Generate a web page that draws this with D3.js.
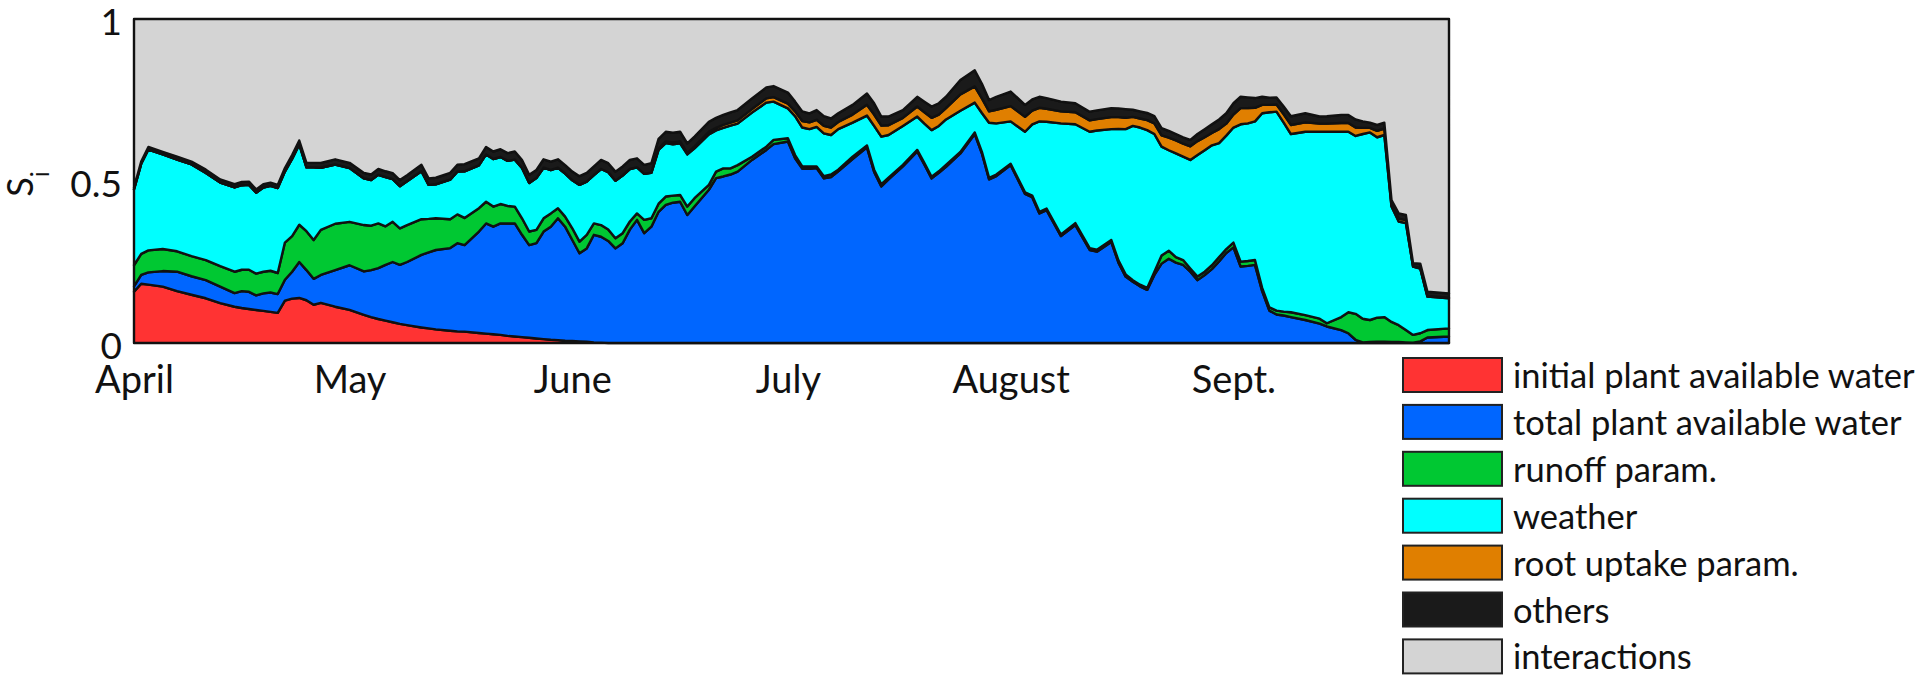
<!DOCTYPE html>
<html>
<head>
<meta charset="utf-8">
<script src="https://cdn.jsdelivr.net/npm/d3@7"></script>
<style>
  html, body { margin: 0; padding: 0; background: #ffffff; }
  svg { display: block; font-family: Lato, "Open Sans", sans-serif; }
</style>
</head>
<body>
<svg id="chart" width="1919" height="677"></svg>
<script>
// Day offsets counted from 1 April
const days = [0,1,2,4,6,8,10,12,14,15,16,17,18,19,20,
  21,22,23,24,25,26,28,30,32,33,34,35,36,37,38,40,41,42,44,45,46,
  48,49,50,51,52,53,54,55,56,57,58,59,60,61,62,63,64,65,66,67,68,69,70,71,72,
  73,74,75,76,77,78,80,81,82,83,84,86,88,89,91,
  92,93,94,95,96,97,98,100,102,103,104,105,107,109,110,111,112,113,115,117,118,119,120,122,124,125,126,127,129,131,133,134,136,137,138,
  139,140,141,142,143,144,145,146,147,148,149,150,151,152,153,154,155,156,157,158,159,160,161,163,165,166,168,169,170,171,172,173,174,175,176,177,178,179,180,183];

// First-order sensitivity indices S_i of each factor group
const initialPlantWater = [.158,.183,.180,.174,.160,.149,.138,.123,.112,.108,.105,.102,.099,.096,.093,
  .131,.137,.139,.132,.118,.124,.112,.102,.087,.080,.074,.069,.064,.059,.055,.048,.045,.042,.038,.036,.035,
  .031,.029,.027,.025,.022,.020,.018,.016,.014,.012,.010,.009,.007,.006,.005,.004,.002,.001,0,0,0,0,0,0,0,
  0,0,0,0,0,0,0,0,0,0,0,0,0,0,0,
  0,0,0,0,0,0,0,0,0,0,0,0,0,0,0,0,0,0,0,0,0,0,0,0,0,0,0,0,0,0,0,0,0,0,0,
  0,0,0,0,0,0,0,0,0,0,0,0,0,0,0,0,0,0,0,0,0,0,0,0,0,0,0,0,0,0,0,0,0,0,0,0,0,0,0,0];

const totalPlantWater = [.017,.027,.038,.048,.060,.057,.056,.051,.042,.052,.053,.045,.054,.060,.058,
  .064,.083,.111,.093,.080,.086,.113,.138,.134,.145,.157,.172,.186,.182,.195,.224,.235,.245,.255,.272,.267,
  .313,.340,.332,.344,.347,.349,.316,.286,.294,.332,.349,.376,.352,.312,.272,.288,.332,.327,.315,.292,.308,.350,.380,.339,.359,
  .405,.426,.433,.436,.395,.421,.473,.509,.514,.520,.529,.565,.596,.614,.622,
  .570,.538,.538,.540,.508,.512,.530,.568,.604,.528,.483,.505,.545,.591,.550,.508,.525,.544,.585,.645,.585,.505,.515,.549,.460,.450,.400,.410,.330,.364,.287,.282,.312,.248,.205,
  .189,.175,.164,.210,.245,.260,.248,.241,.220,.194,.210,.228,.252,.278,.295,.236,.238,.241,.160,.100,.088,.085,.080,.071,.060,.051,.040,.030,.010,.002,.003,.004,.004,.003,.003,.002,.001,.005,.017,.020];

const runoffParam = [.065,.065,.068,.068,.063,.062,.062,.063,.066,.066,.068,.067,.067,.067,.065,
  .115,.110,.115,.120,.120,.139,.143,.134,.143,.137,.138,.119,.124,.113,.114,.110,.103,.098,.089,.089,.084,
  .072,.067,.062,.060,.054,.052,.051,.042,.041,.041,.041,.031,.031,.036,.036,.042,.035,.036,.035,.031,.031,.025,.020,.041,.026,
  .025,.026,.022,.021,.026,.026,.015,.020,.025,.019,.020,.010,.010,.013,.010,
  .010,.007,.007,.005,.007,.008,.005,.007,.006,.007,.007,.005,.005,.005,.005,.005,.005,.006,.005,.005,.005,.005,.005,.004,.005,.005,.005,.005,.005,.006,.006,.006,.006,.007,.007,
  .005,.005,.006,.010,.025,.025,.017,.015,.010,.011,.010,.012,.013,.012,.015,.015,.015,.015,.010,.010,.012,.012,.015,.015,.015,.010,.040,.065,.080,.073,.068,.074,.076,.062,.052,.038,.024,.025,.023,.025];

const weather = [.234,.278,.311,.292,.283,.283,.269,.258,.260,.261,.262,.250,.260,.262,.262,
  .219,.238,.248,.197,.224,.192,.183,.166,.144,.141,.150,.152,.132,.130,.135,.148,.105,.105,.122,.132,.144,
  .132,.146,.147,.145,.139,.145,.155,.150,.160,.156,.134,.125,.133,.148,.175,.164,.149,.173,.177,.178,.178,.162,.142,.142,.140,
  .166,.165,.158,.159,.161,.154,.156,.127,.125,.132,.128,.136,.136,.118,.092,
  .120,.120,.115,.122,.132,.122,.125,.105,.092,.135,.147,.132,.120,.103,.122,.144,.140,.140,.127,.092,.120,.170,.158,.131,.187,.220,.279,.268,.343,.305,.359,.368,.342,.406,.448,
  .476,.485,.487,.425,.336,.310,.320,.319,.335,.375,.375,.370,.352,.350,.355,.424,.425,.428,.539,.602,.614,.583,.550,.566,.577,.591,.572,.557,.549,.570,.579,.557,.562,.356,.320,.330,.211,.200,.103,.093];

const rootUptakeParam = [0,0,0,0,0,0,0,0,0,0,0,0,0,0,0,
  0,0,0,0,0,0,0,0,0,0,0,0,0,0,0,0,0,0,0,0,0,
  0,0,0,0,0,0,0,0,0,0,0,0,0,0,0,0,0,0,0,0,0,0,0,0,.001,
  .004,.005,.006,.006,.004,.006,.008,.008,.009,.009,.010,.011,.013,.014,.015,
  .015,.020,.021,.022,.023,.023,.022,.025,.033,.035,.034,.030,.025,.031,.035,.038,.035,.035,.050,.050,.045,.035,.042,.047,.046,.042,.042,.040,.037,.037,.035,.035,.037,.036,.035,
  .028,.028,.031,.033,.035,.039,.040,.040,.042,.043,.040,.038,.043,.037,.040,.050,.047,.042,.026,.023,.022,.026,.028,.029,.025,.025,.027,.027,.026,.019,.014,.020,.020,.006,.009,.009,0,.002,.002,.002];

const others = [.006,.007,.008,.008,.009,.009,.010,.010,.010,.010,.010,.010,.010,.010,.010,
  .011,.012,.012,.014,.014,.015,.016,.016,.017,.017,.018,.018,.018,.019,.019,.020,.020,.020,.021,.021,.022,
  .022,.023,.023,.024,.024,.025,.025,.025,.025,.026,.026,.026,.026,.027,.027,.027,.027,.028,.028,.028,.028,.028,.028,.028,.029,
  .030,.030,.030,.030,.030,.030,.031,.031,.031,.032,.032,.033,.034,.034,.034,
  .030,.030,.028,.030,.030,.028,.027,.030,.035,.035,.028,.027,.024,.030,.033,.035,.035,.035,.045,.050,.045,.035,.040,.045,.037,.035,.034,.033,.030,.028,.027,.027,.028,.027,.027,
  .022,.022,.022,.022,.022,.021,.020,.020,.020,.022,.025,.027,.030,.032,.035,.035,.033,.030,.025,.022,.022,.024,.027,.028,.022,.023,.025,.025,.025,.020,.016,.018,.018,.014,.016,.016,.010,.013,.013,.013];

const interactions = [.520,.440,.395,.410,.425,.440,.465,.495,.510,.503,.502,.526,.510,.505,.512,
  .460,.420,.375,.444,.444,.444,.433,.444,.475,.480,.463,.470,.476,.497,.482,.450,.492,.490,.475,.450,.448,
  .430,.395,.409,.402,.414,.409,.435,.481,.466,.433,.440,.433,.451,.471,.485,.475,.455,.435,.445,.471,.455,.435,.430,.450,.445,
  .370,.348,.351,.348,.384,.363,.317,.305,.296,.288,.281,.245,.211,.207,.227,
  .255,.285,.291,.281,.300,.307,.291,.265,.230,.260,.301,.301,.281,.240,.255,.270,.260,.240,.188,.158,.200,.250,.240,.224,.265,.248,.240,.244,.255,.260,.286,.282,.275,.276,.278,
  .280,.285,.290,.300,.337,.345,.355,.365,.373,.355,.340,.325,.310,.291,.260,.240,.242,.244,.240,.243,.242,.270,.300,.291,.301,.300,.296,.296,.310,.316,.320,.327,.320,.559,.600,.605,.754,.755,.842,.847];

const seriesLabels = ["initial plant available water", "total plant available water", "runoff param.",
  "weather", "root uptake param.", "others", "interactions"];
const seriesColors = ["#ff3333", "#0066ff", "#00c832", "#00ffff", "#e07f00", "#1a1a1a", "#d4d4d4"];
const monthLabels = ["April", "May", "June", "July", "August", "Sept."];
const yTicks = [0, 0.5, 1];
const yTickLabels = ["0", "0.5", "1"];

const seriesValues = [initialPlantWater, totalPlantWater, runoffParam, weather, rootUptakeParam, others, interactions];
const keys = seriesLabels.map((_, i) => "s" + i);

const start = new Date(Date.UTC(2013, 3, 1));
const rows = days.map((d, i) => {
  const row = { date: d3.utcDay.offset(start, d) };
  keys.forEach((k, j) => { row[k] = seriesValues[j][i]; });
  return row;
});

const plot = { left: 134, right: 1449, top: 19, bottom: 343 };
const svg = d3.select("#chart");

const x = d3.scaleUtc()
  .domain([start, d3.utcDay.offset(start, 183)])
  .range([plot.left, plot.right]);
const y = d3.scaleLinear().domain([0, 1]).range([plot.bottom, plot.top]);

const stacked = d3.stack().keys(keys)(rows);

const area = d3.area()
  .x(d => x(d.data.date))
  .y0(d => y(d[0]))
  .y1(d => y(d[1]))
  .curve(d3.curveLinear);

svg.append("g")
  .selectAll("path")
  .data(stacked)
  .join("path")
  .attr("d", area)
  .attr("fill", (d, i) => seriesColors[i])
  .attr("stroke", "#111")
  .attr("stroke-width", 2.4)
  .attr("stroke-linejoin", "round");

// plot frame
svg.append("rect")
  .attr("x", plot.left).attr("y", plot.top)
  .attr("width", plot.right - plot.left).attr("height", plot.bottom - plot.top)
  .attr("fill", "none").attr("stroke", "#111").attr("stroke-width", 2);

// x axis: month names centred on the first day of each month
const monthStarts = monthLabels.map((_, i) => d3.utcMonth.offset(start, i));
const xAxis = svg.append("g")
  .attr("transform", `translate(0,${plot.bottom})`)
  .call(d3.axisBottom(x).tickValues(monthStarts).tickFormat((d, i) => monthLabels[i]).tickSize(0));
xAxis.select(".domain").remove();
xAxis.selectAll("text")
  .attr("y", 50).attr("dy", null)
  .attr("fill", "#111")
  .style("font-family", "Lato, sans-serif")
  .style("font-size", "38px");

// y axis
const yAxis = svg.append("g")
  .attr("transform", `translate(${plot.left},0)`)
  .call(d3.axisLeft(y).tickValues(yTicks).tickFormat((d, i) => yTickLabels[i]).tickSize(0).tickPadding(12));
yAxis.select(".domain").remove();
yAxis.selectAll("text")
  .attr("fill", "#111")
  .attr("y", 4)
  .style("font-family", "Lato, sans-serif")
  .style("font-size", "37px");

// y axis title S_i
const yTitle = svg.append("text")
  .attr("transform", "translate(33,184) rotate(-90)")
  .attr("text-anchor", "middle")
  .attr("fill", "#111")
  .style("font-size", "36px");
yTitle.append("tspan").text("S");
yTitle.append("tspan").attr("dy", 16).style("font-size", "25px").text("i");

// legend
const legend = svg.append("g").attr("transform", "translate(1403,358)");
const item = legend.selectAll("g")
  .data(seriesLabels)
  .join("g")
  .attr("transform", (d, i) => `translate(0,${i * 46.9})`);
item.append("rect")
  .attr("width", 99).attr("height", 34)
  .attr("fill", (d, i) => seriesColors[i])
  .attr("stroke", "#222").attr("stroke-width", 2);
item.append("text")
  .attr("x", 110).attr("y", 30)
  .attr("fill", "#111")
  .style("font-size", "34.5px")
  .text(d => d);
</script>
</body>
</html>
